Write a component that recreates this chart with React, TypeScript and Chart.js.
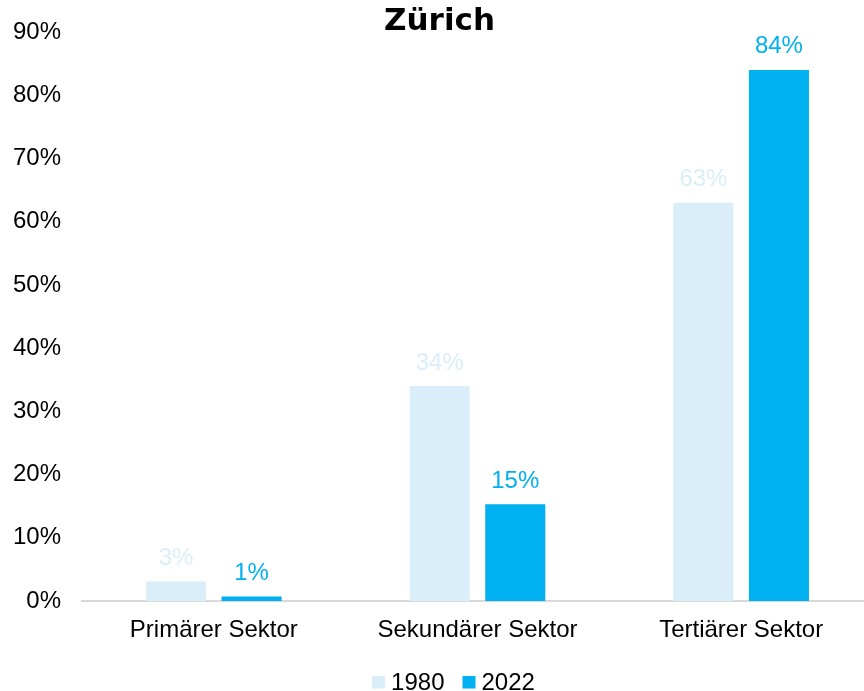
import React, { useEffect, useRef } from "react";
import { Chart, registerables } from "chart.js";

Chart.register(...registerables);

const titleText = "Zürich";
const categories = ["Primärer Sektor", "Sekundärer Sektor", "Tertiärer Sektor"];
const seriesNames = ["1980", "2022"];
const values1980 = [3.1, 34.0, 63.0];
const values2022 = [0.7, 15.3, 84.0];
const seriesColors = ["#DAEEFA", "#00B0F0"];
const yMin = 0;
const yMax = 90;
const yStep = 10;

const FONT = "'Liberation Sans', Arial, sans-serif";
const FS = 24;

const overlayPlugin = {
  id: "overlay",
  afterDraw(chart: any) {
    const ctx = chart.ctx;
    ctx.save();
    ctx.font = `${FS}px ${FONT}`;
    ctx.textAlign = "center";
    ctx.textBaseline = "alphabetic";
    chart.data.datasets.forEach((ds: any, i: number) => {
      const meta = chart.getDatasetMeta(i);
      meta.data.forEach((el: any, j: number) => {
        ctx.fillStyle = ds.backgroundColor;
        ctx.fillText(Math.round(ds.data[j]) + "%", el.x, el.y - 16.5);
      });
    });
    ctx.font = `bold 31px 'DejaVu Sans', sans-serif`;
    ctx.fillStyle = "#000";
    ctx.fillText(titleText, 439.5, 30);
    ctx.font = `${FS}px ${FONT}`;
    const box = 13;
    const gap = 6;
    const itemGap = 18;
    const widths = chart.data.datasets.map((ds: any) => ctx.measureText(ds.label).width);
    let total = 0;
    widths.forEach((w: number, i: number) => {
      total += box + gap + w + (i < widths.length - 1 ? itemGap : 0);
    });
    let x = 453.5 - total / 2;
    ctx.textAlign = "left";
    chart.data.datasets.forEach((ds: any, i: number) => {
      ctx.fillStyle = ds.backgroundColor;
      ctx.fillRect(x, 676, box, 12.5);
      ctx.fillStyle = "#000";
      ctx.fillText(ds.label, x + box + gap, 690);
      x += box + gap + widths[i] + itemGap;
    });
    ctx.restore();
  },
};

export default function App() {
  const ref = useRef<HTMLCanvasElement | null>(null);
  useEffect(() => {
    if (!ref.current) return;
    const chart = new Chart(ref.current, {
      type: "bar",
      data: {
        labels: categories,
        datasets: [
          { label: seriesNames[0], data: values1980, backgroundColor: seriesColors[0] },
          { label: seriesNames[1], data: values2022, backgroundColor: seriesColors[1] },
        ],
      },
      options: {
        responsive: false,
        animation: false,
        devicePixelRatio: 1,
        layout: { padding: { top: 32, left: 0, right: 0, bottom: 0 } },
        datasets: { bar: { categoryPercentage: 0.573, barPercentage: 0.795 } },
        plugins: {
          legend: { display: false },
          title: { display: false },
          tooltip: { enabled: false },
        },
        scales: {
          x: {
            grid: { display: true, drawOnChartArea: false, drawTicks: false, color: "rgba(0,0,0,0)" },
            border: { display: true, color: "#D9D9D9", width: 2 },
            ticks: { color: "#000", font: { family: FONT, size: FS }, padding: 15, maxRotation: 0, autoSkip: false },
            afterFit: (s: any) => {
              s.height = 90;
              s.paddingLeft = 0;
              s.paddingRight = 0;
            },
          },
          y: {
            min: yMin,
            max: yMax,
            grid: { display: false, drawTicks: false },
            border: { display: false },
            ticks: {
              stepSize: yStep,
              color: "#000",
              font: { family: FONT, size: FS },
              padding: 21,
              callback: (v: any) => v + "%",
            },
            afterFit: (s: any) => {
              s.width = 82;
              s.paddingTop = 0;
              s.paddingBottom = 0;
            },
          },
        },
      },
      plugins: [overlayPlugin],
    });
    return () => chart.destroy();
  }, []);
  return (
    <div style={{ position: "fixed", left: 0, top: 0, width: 864, height: 691, overflow: "hidden", background: "#fff" }}>
      <canvas ref={ref} width={873} height={691} style={{ display: "block", width: 873, height: 691 }} />
    </div>
  );
}
